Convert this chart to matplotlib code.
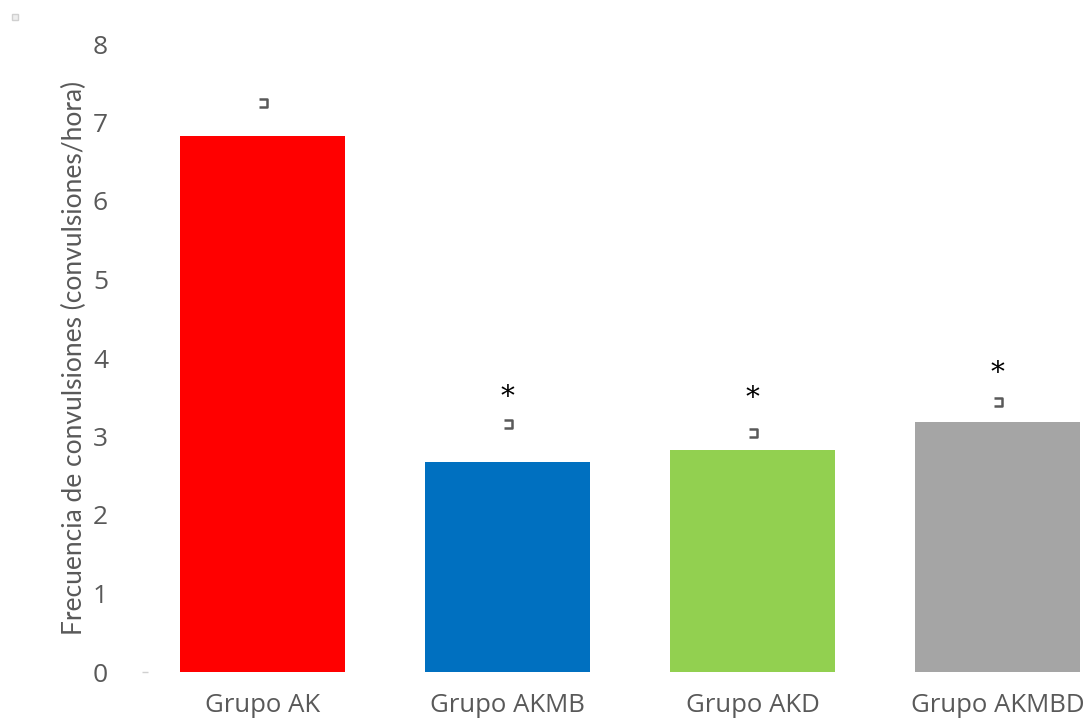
import numpy as np
import matplotlib
matplotlib.use('Agg')
import matplotlib.pyplot as plt
from matplotlib.path import Path

plt.rcParams['font.family'] = ['Open Sans', 'DejaVu Sans']

# datos
grupos = ['Grupo AK', 'Grupo AKMB', 'Grupo AKD', 'Grupo AKMBD']
frecuencia = [6.83, 2.68, 2.83, 3.19]
marca_error = [7.25, 3.16, 3.05, 3.44]
asterisco = [None, 3.50, 3.48, 3.80]
colores = ['#ff0000', '#0070c0', '#92d050', '#a5a5a5']
yticks = [0, 1, 2, 3, 4, 5, 6, 7, 8]

fig = plt.figure(figsize=(10.91, 7.19), dpi=100)
ax = fig.add_axes([140 / 1091, 47 / 719, 951 / 1091, 628 / 719])

x = np.arange(len(grupos))
ax.bar(x, frecuencia, width=0.673, color=colores, zorder=2)

# marcas pequeñas tipo corchete sobre las barras
corchete = Path([(-1, 1), (1, 1), (1, -1), (-1, -1)],
                [Path.MOVETO, Path.LINETO, Path.LINETO, Path.LINETO])
ax.plot(x, marca_error, linestyle='none', marker=corchete, markersize=6,
        markerfacecolor='none', markeredgecolor='#595959', markeredgewidth=1.8, zorder=3)

for i, v in enumerate(asterisco):
    if v is not None:
        ax.text(x[i], v, '*', ha='center', va='center', fontsize=20,
                family=['DejaVu Serif'], color='black')

ax.set_xlim(-0.5, 3.38)
ax.set_ylim(0, 8)
ax.set_yticks(yticks)
ax.set_yticklabels([str(t) for t in yticks], fontsize=19, color='#595959')
ax.set_xticks(x)
ax.set_xticklabels(grupos, fontsize=18.5, color='#595959')
ax.tick_params(axis='y', length=0, pad=23)
ax.tick_params(axis='x', length=0, pad=15)
for s in ax.spines.values():
    s.set_visible(False)

ax.set_ylabel('Frecuencia de convulsiones (convulsiones/hora)', fontsize=19,
              color='#595959', family=['Lato', 'DejaVu Sans'], labelpad=4)

# pequeña marca gris en el eje en cero
ax.plot([0.005], [0], transform=ax.get_yaxis_transform(), marker='_',
        markersize=5, color='#d0d0d0', clip_on=False)
# cuadrito gris arriba a la izquierda
fig.add_artist(plt.Line2D([15 / 1091], [1 - 17 / 719], marker='s', markersize=4,
                          markerfacecolor='#eeeeee', markeredgecolor='#d0d0d0',
                          linestyle='none'))

fig.savefig('out.png', dpi=100)
